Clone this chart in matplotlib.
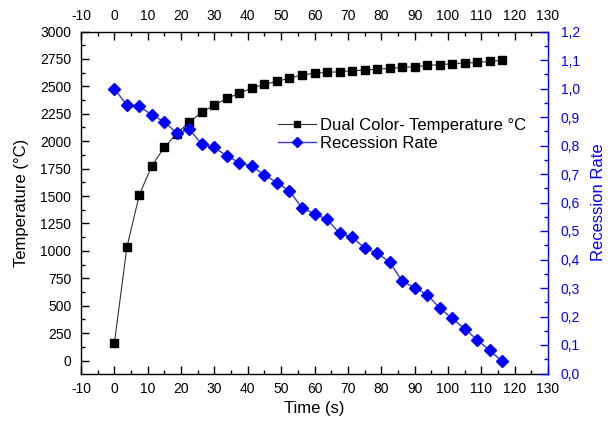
import matplotlib
matplotlib.use("Agg")
import matplotlib.pyplot as plt
from matplotlib.ticker import MultipleLocator, FuncFormatter

plt.rcParams['font.family'] = ['Liberation Sans', 'DejaVu Sans']
plt.rcParams['axes.unicode_minus'] = False

time_s = [0, 3.75, 7.5, 11.25, 15, 18.75, 22.5, 26.25, 30, 33.75, 37.5, 41.25,
          45, 48.75, 52.5, 56.25, 60, 63.75, 67.5, 71.25, 75, 78.75, 82.5, 86.25,
          90, 93.75, 97.5, 101.25, 105, 108.75, 112.5, 116.25]
temperature = [157, 1032, 1512, 1776, 1946, 2070, 2177, 2263, 2329, 2390, 2439, 2484,
               2518, 2545, 2576, 2604, 2619, 2627, 2633, 2642, 2648, 2657, 2664, 2673,
               2679, 2691, 2697, 2706, 2712, 2718, 2727, 2737]
recession = [1.0, 0.941, 0.937, 0.908, 0.883, 0.843, 0.857, 0.804, 0.793, 0.763, 0.740, 0.727,
             0.696, 0.670, 0.640, 0.581, 0.560, 0.541, 0.492, 0.478, 0.441, 0.422, 0.392, 0.324,
             0.301, 0.277, 0.230, 0.193, 0.157, 0.118, 0.081, 0.043]

temp_label = "Dual Color- Temperature °C"
rec_label = "Recession Rate"

blue = '#0000ff'
fig = plt.figure(figsize=(6.14, 4.32), dpi=100)
ax = fig.add_axes([81/614, 1-373.5/432, (548-81)/614, (373.5-31.5)/432])
ax2 = ax.twinx()

l1, = ax.plot(time_s, temperature, color='#333333', lw=0.8, marker='s', ms=6,
              mfc='black', mec='black', label=temp_label)
l2, = ax2.plot(time_s, recession, color='#3a3acc', lw=1.0, marker='D', ms=6.5,
               mfc=blue, mec=blue, label=rec_label)

ax.set_xlim(-10, 130)
ax.set_ylim(-118, 3000)
ax2.set_ylim(0, 1.2)

ax.xaxis.set_major_locator(MultipleLocator(10))
ax.xaxis.set_minor_locator(MultipleLocator(5))
ax.yaxis.set_major_locator(MultipleLocator(250))
ax.yaxis.set_minor_locator(MultipleLocator(125))
ax2.yaxis.set_major_locator(MultipleLocator(0.1))
ax2.yaxis.set_minor_locator(MultipleLocator(0.05))
ax2.yaxis.set_major_formatter(FuncFormatter(lambda v, p: f"{v:.1f}".replace('.', ',')))

ax.tick_params(axis='x', which='both', direction='in', top=True, labeltop=True,
               labelsize=10, pad=6)
ax.tick_params(axis='x', which='major', length=6, width=1)
ax.tick_params(axis='x', which='minor', length=3, width=1)
ax.tick_params(axis='y', which='both', direction='in', labelsize=10, pad=7)
ax.tick_params(axis='y', which='major', length=6, width=1)
ax.tick_params(axis='y', which='minor', length=3, width=1)
ax2.tick_params(axis='y', which='both', direction='in', labelsize=10, pad=9,
                colors=blue)
ax2.tick_params(axis='y', which='major', length=6, width=1)
ax2.tick_params(axis='y', which='minor', length=3, width=1)

ax.spines['right'].set_visible(False)
ax2.spines['right'].set_color(blue)
ax2.spines['left'].set_visible(False)
ax2.spines['top'].set_visible(False)
ax2.spines['bottom'].set_visible(False)
for s in ['left', 'top', 'bottom']:
    ax.spines[s].set_linewidth(1.0)
ax2.spines['right'].set_linewidth(1.0)

ax.set_xlabel("Time (s)", fontsize=12, labelpad=4)
ax.set_ylabel("Temperature (°C)", fontsize=12, labelpad=8)
ax2.set_ylabel("Recession Rate", fontsize=12, color=blue, labelpad=8)

leg = ax.legend([l1, l2], [temp_label, rec_label], loc='center left',
                bbox_to_anchor=(271/614, 1-134.5/432), bbox_transform=fig.transFigure,
                frameon=False, fontsize=12, handlelength=2.3, handletextpad=0.25,
                labelspacing=0.15, borderaxespad=0, markerscale=0.8)

fig.savefig("out.png", dpi=100)
